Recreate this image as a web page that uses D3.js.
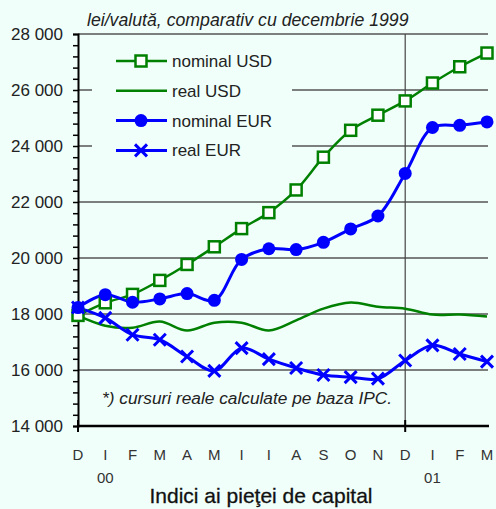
<!DOCTYPE html>
<html>
<head>
<meta charset="utf-8">
<script src="https://cdn.jsdelivr.net/npm/d3@7"></script>
<style>
  body { margin: 0; background: #f0fffa; }
  svg { display: block; font-family: "Liberation Sans", Arial, sans-serif; }
</style>
</head>
<body>
<div id="chart"></div>
<script>
// data
var months = ["D", "I", "F", "M", "A", "M", "I", "I", "A", "S", "O", "N", "D", "I", "F", "M"];
var years = [{idx: 1, label: "00"}, {idx: 13, label: "01"}];
var nominalUSD = [17950, 18400, 18700, 19200, 19770, 20400, 21050, 21620, 22430, 23600, 24560, 25100, 25610, 26250, 26830, 27320];
var realUSD = [17940, 17580, 17510, 17730, 17410, 17690, 17690, 17410, 17770, 18190, 18410, 18260, 18190, 17980, 17980, 17910];
var nominalEUR = [18230, 18690, 18420, 18540, 18730, 18490, 19950, 20330, 20300, 20560, 21040, 21500, 23020, 24660, 24740, 24860];
var realEUR = [18230, 17860, 17260, 17080, 16480, 15970, 16780, 16390, 16070, 15820, 15745, 15690, 16340, 16880, 16570, 16300];
var yTicks = d3.range(14000, 28001, 400);

var width = 496,
    height = 509;
var green = "#008000",
    blue = "#0000ff";

var svg = d3.select("#chart").append("svg")
    .attr("width", width)
    .attr("height", height);

var x = d3.scalePoint()
    .domain(d3.range(months.length))
    .range([78, 487]);

var y = d3.scaleLinear()
    .domain([14000, 28000])
    .range([426, 34]);

var fmt = d3.formatLocale({decimal: ",", thousands: " ", grouping: [3], currency: ["", ""]}).format(",");

// grid lines
svg.selectAll(".grid")
    .data(d3.range(16000, 28001, 2000))
    .enter().append("line")
    .attr("class", "grid")
    .attr("x1", 78).attr("x2", 488)
    .attr("y1", function(d){ return y(d); })
    .attr("y2", function(d){ return y(d); })
    .style("stroke", "#555")
    .style("stroke-width", 1.3);

// vertical year separator
svg.append("line")
    .attr("x1", x(12)).attr("x2", x(12))
    .attr("y1", y(28000)).attr("y2", y(14000))
    .style("stroke", "#444")
    .style("stroke-width", 1.2);

// legend background hides the grid
svg.append("rect")
    .attr("x", 92).attr("y", 42)
    .attr("width", 200).attr("height", 150)
    .style("fill", "#f0fffa");

// y axis
var yAxis = d3.axisLeft(y)
    .tickValues(yTicks)
    .tickSize(5)
    .tickFormat(function(d){ return d % 2000 == 0 ? fmt(d) : ""; });

var gy = svg.append("g")
    .attr("transform", "translate(78,0)")
    .call(yAxis);
gy.select(".domain").style("stroke", "#000").style("stroke-width", 2);
gy.selectAll(".tick line").style("stroke", "#000").style("stroke-width", 1.5);
gy.selectAll(".tick text")
    .attr("x", -15)
    .style("font-size", "17px")
    .style("fill", "#222");

// x axis
svg.append("line")
    .attr("x1", 78).attr("x2", 489)
    .attr("y1", 426).attr("y2", 426)
    .style("stroke", "#000")
    .style("stroke-width", 2.5);

svg.selectAll(".xtick")
    .data([0, 12])
    .enter().append("line")
    .attr("x1", function(d){ return x(d); })
    .attr("x2", function(d){ return x(d); })
    .attr("y1", 420).attr("y2", 432)
    .style("stroke", "#000")
    .style("stroke-width", 2);

svg.selectAll(".mlabel")
    .data(months)
    .enter().append("text")
    .attr("x", function(d, i){ return x(i); })
    .attr("y", 460)
    .attr("text-anchor", "middle")
    .style("font-size", "15px")
    .style("fill", "#333")
    .text(function(d){ return d; });

svg.selectAll(".ylabel")
    .data(years)
    .enter().append("text")
    .attr("x", function(d){ return x(d.idx); })
    .attr("y", 483)
    .attr("text-anchor", "middle")
    .style("font-size", "15px")
    .style("fill", "#333")
    .text(function(d){ return d.label; });

// titles
svg.append("text")
    .attr("x", 87).attr("y", 26)
    .style("font-size", "17.7px")
    .style("font-style", "italic")
    .style("fill", "#222")
    .text("lei/valută, comparativ cu decembrie 1999");

svg.append("text")
    .attr("x", 102).attr("y", 404)
    .style("font-size", "17.3px")
    .style("font-style", "italic")
    .style("fill", "#222")
    .text("*) cursuri reale calculate pe baza IPC.");

svg.append("text")
    .attr("x", 261).attr("y", 503)
    .attr("text-anchor", "middle")
    .style("font-size", "21px")
    .style("fill", "#111")
    .style("stroke", "#111")
    .style("stroke-width", 0.3)
    .text("Indici ai pieţei de capital");

// lines
var line = d3.line()
    .x(function(d, i){ return x(i); })
    .y(function(d){ return y(d); })
    .curve(d3.curveCatmullRom);

var series = [
    {name: "nominal USD", values: nominalUSD, color: green, width: 2.5, marker: "square"},
    {name: "real USD", values: realUSD, color: green, width: 2.5, marker: "none"},
    {name: "nominal EUR", values: nominalEUR, color: blue, width: 3, marker: "circle"},
    {name: "real EUR", values: realEUR, color: blue, width: 3, marker: "cross"}
];

series.forEach(function(s){
    svg.append("path")
        .attr("d", line(s.values))
        .style("fill", "none")
        .style("stroke", s.color)
        .style("stroke-width", s.width);
});

function drawMarker(g, type, color){
    if(type == "square"){
        g.append("rect")
            .attr("x", -5.5).attr("y", -5.5)
            .attr("width", 11).attr("height", 11)
            .style("fill", "#fff")
            .style("stroke", color)
            .style("stroke-width", 2.5);
    } else if(type == "circle"){
        g.append("circle")
            .attr("r", 6.5)
            .style("fill", color);
    } else if(type == "cross"){
        g.append("path")
            .attr("d", "M-6,-6L6,6M-6,6L6,-6")
            .style("stroke", color)
            .style("stroke-width", 3);
    }
}

series.forEach(function(s){
    if(s.marker == "none") return;
    s.values.forEach(function(v, i){
        var g = svg.append("g")
            .attr("transform", "translate(" + x(i) + "," + y(v) + ")");
        drawMarker(g, s.marker, s.color);
    });
});

// legend
var legend = svg.selectAll(".legend")
    .data(series)
    .enter().append("g")
    .attr("class", "legend")
    .attr("transform", function(d, i){ return "translate(0," + (61 + i * 29.8) + ")"; });

legend.append("line")
    .attr("x1", 116).attr("x2", 167)
    .style("stroke", function(d){ return d.color; })
    .style("stroke-width", function(d){ return d.width; });

legend.each(function(d){
    var g = d3.select(this).append("g").attr("transform", "translate(141,0)");
    drawMarker(g, d.marker, d.color);
});

legend.append("text")
    .attr("x", 172).attr("y", 6)
    .style("font-size", "17px")
    .style("fill", "#222")
    .text(function(d){ return d.name; });
</script>
</body>
</html>
